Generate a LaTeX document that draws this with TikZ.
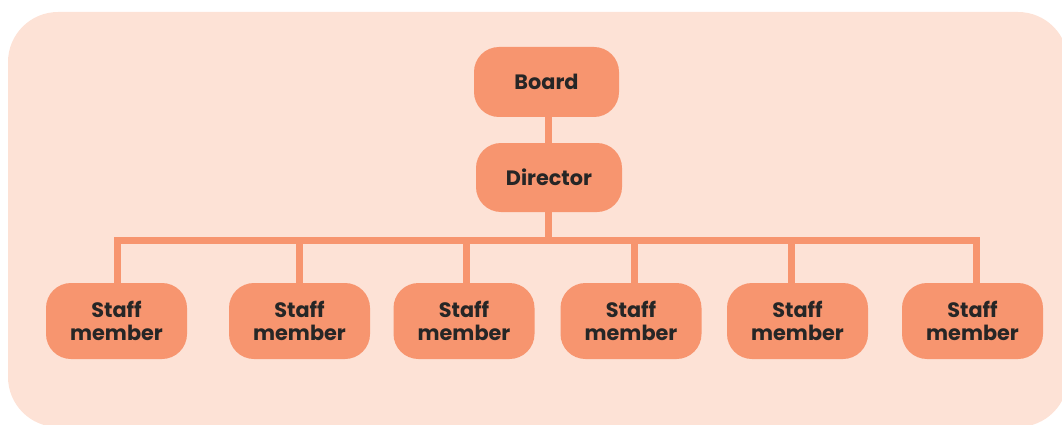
\documentclass[tikz,border=0pt]{standalone}
\usepackage{fontspec}
\setmainfont{Poppins}
\definecolor{bgpeach}{HTML}{FDE2D6}
\definecolor{boxorange}{HTML}{F7956F}
\definecolor{txtdark}{HTML}{262626}
\begin{document}
\begin{tikzpicture}[x=1pt,y=-1pt,
  orgbox/.style={rectangle, rounded corners=25pt, fill=boxorange, draw=none,
    text=txtdark, font=\fontsize{20.8}{22.5}\selectfont\bfseries, align=center, inner sep=0pt},
  conn/.style={draw=boxorange, line width=7pt, line join=miter}]
\useasboundingbox (0,0) rectangle (1062,425);
\fill[bgpeach, rounded corners=50pt] (8,12) rectangle (1068,427);
\node[orgbox, minimum width=145pt, minimum height=70pt] (board) at (546.5,82) {Board};
\node[orgbox, minimum width=146pt, minimum height=69pt] (director) at (549,177.5) {Director};
\foreach \i/\x in {1/116.5,2/299.5,3/464,4/631,5/797.5,6/972.5}{
  \node[orgbox, minimum width=141pt, minimum height=76pt] (s\i) at (\x,321) {Staff\\member};
}
\coordinate (bus) at (548,240.5);
\path[conn] ([xshift=1.5pt]board.south) -- ([xshift=-1pt]director.north);
\path[conn] ([xshift=-1pt]director.south) -- (bus);
\path[conn] ([xshift=0.5pt]s1.north) |- (bus) -| ([xshift=3.5pt]s6.north);
\path[conn] ([xshift=-0.5pt]s2.north) -- ([xshift=-0.5pt]s2.north |- bus);
\path[conn] ([xshift=2pt]s3.north) -- ([xshift=2pt]s3.north |- bus);
\path[conn] ([xshift=3pt]s4.north) -- ([xshift=3pt]s4.north |- bus);
\path[conn] ([xshift=-6.5pt]s5.north) -- ([xshift=-6.5pt]s5.north |- bus);
\end{tikzpicture}
\end{document}
